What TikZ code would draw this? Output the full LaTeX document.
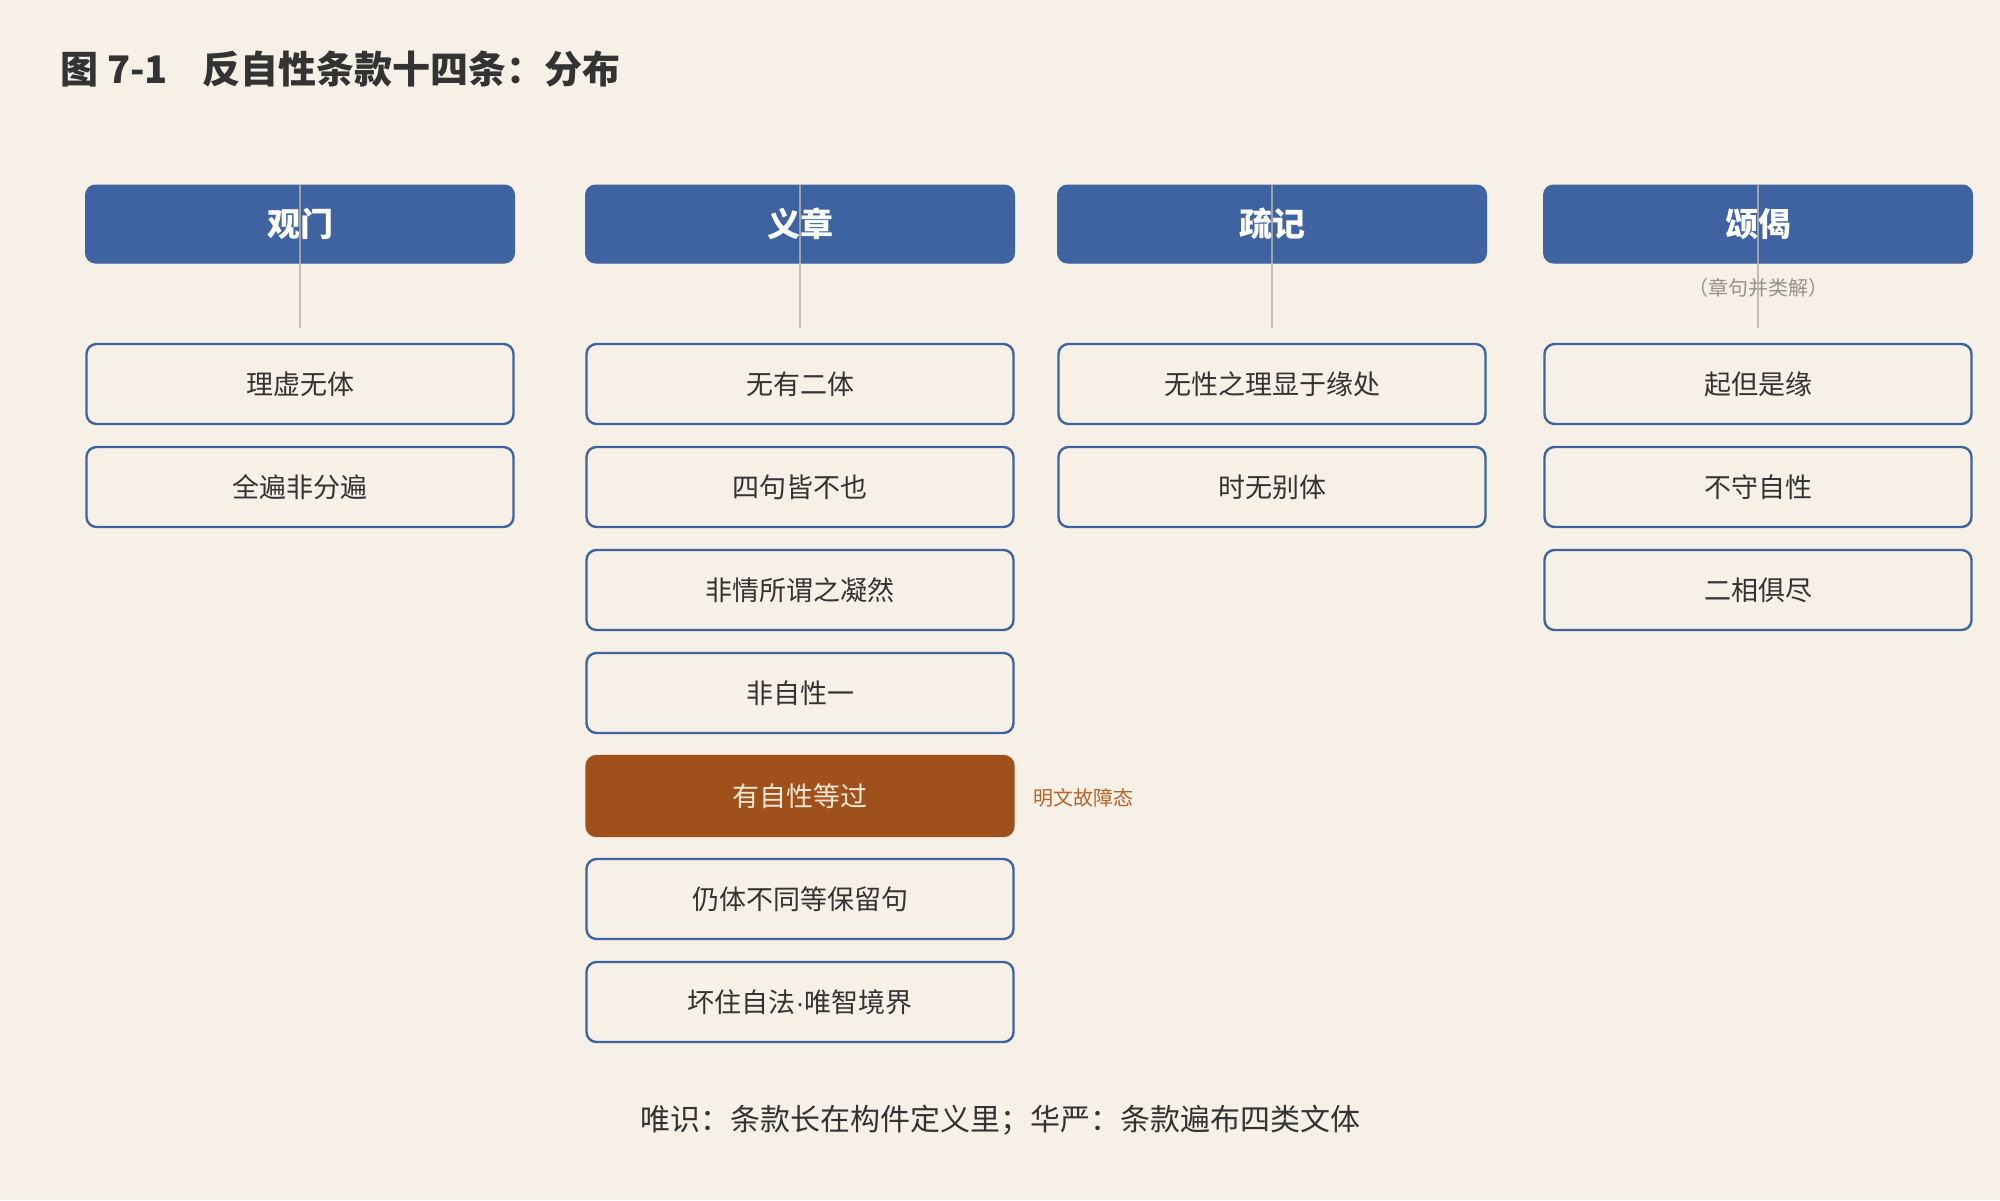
\documentclass[tikz,border=0pt]{standalone}
\usepackage{fontspec}
\setmainfont{Noto Sans CJK SC}
\newfontfamily\latinfont{Liberation Sans}
\definecolor{bgc}{HTML}{F6F0E6}
\definecolor{hdr}{HTML}{3F63A0}
\definecolor{txt}{HTML}{333333}
\definecolor{hil}{HTML}{A0511B}
\definecolor{hiltxt}{HTML}{F6E8D6}
\definecolor{note}{HTML}{B4642A}
\definecolor{sub}{HTML}{999088}
\definecolor{conn}{HTML}{B8B2AA}
\tikzset{
  hdrbox/.style={rectangle, rounded corners=10pt, fill=hdr, draw=hdr, line width=1pt,
    minimum width=429pt, minimum height=78pt, inner sep=0pt,
    text=white, font=\fontsize{33}{36}\selectfont\bfseries},
  itembox/.style={rectangle, rounded corners=10pt, fill=bgc, draw=hdr, line width=2.4pt,
    minimum width=427pt, minimum height=80pt, inner sep=0pt,
    text=txt, font=\fontsize{27}{30}\selectfont},
  hilbox/.style={itembox, fill=hil, draw=hil, text=hiltxt},
  connline/.style={draw=conn, line width=1.3pt, opacity=0.8},
}
\begin{document}
\begin{tikzpicture}[x=1pt,y=-1pt]
\fill[bgc] (0,0) rectangle (2000,1200);
\useasboundingbox (0,0) rectangle (2000,1200);
\node[anchor=west, text=txt, font=\fontsize{38}{42}\selectfont\bfseries] (title) at (57,69) {图 7-1\hspace{0.9em}反自性条款十四条：分布};
% headers
\node[hdrbox] (h1) at (300,224) {观门};
\node[hdrbox] (h2) at (800,224) {义章};
\node[hdrbox] (h3) at (1272,224) {疏记};
\node[hdrbox] (h4) at (1758,224) {颂偈};
\node[text=sub, font=\fontsize{20}{22}\selectfont] (s4) at (1758,288) {（章句并类解）};
% column 1
\node[itembox] (a1) at (300,384) {理虚无体};
\node[itembox] (a2) at (300,487) {全遍非分遍};
% column 2
\node[itembox] (b1) at (800,384) {无有二体};
\node[itembox] (b2) at (800,487) {四句皆不也};
\node[itembox] (b3) at (800,590) {非情所谓之凝然};
\node[itembox] (b4) at (800,693) {非自性一};
\node[hilbox] (b5) at (800,796) {有自性等过};
\node[itembox] (b6) at (800,899) {仍体不同等保留句};
\node[itembox] (b7) at (800,1002) {坏住自法{\latinfont ·}唯智境界};
\node[anchor=west, text=note, font=\fontsize{20}{22}\selectfont] (n5) at (1030,798) {明文故障态};
% column 3
\node[itembox] (c1) at (1272,384) {无性之理显于缘处};
\node[itembox] (c2) at (1272,487) {时无别体};
% column 4
\node[itembox] (d1) at (1758,384) {起但是缘};
\node[itembox] (d2) at (1758,487) {不守自性};
\node[itembox] (d3) at (1758,590) {二相俱尽};
% connectors
\coordinate (e1) at (300,328);
\coordinate (e2) at (800,328);
\coordinate (e3) at (1272,328);
\coordinate (e4) at (1758,328);
\draw[connline] (h1.north) -- (e1);
\draw[connline] (h2.north) -- (e2);
\draw[connline] (h3.north) -- (e3);
\draw[connline] (h4.north) -- (e4);
% caption
\node[text=txt, font=\fontsize{30}{33}\selectfont] (cap) at (1000,1120) {唯识：条款长在构件定义里；华严：条款遍布四类文体};
\end{tikzpicture}
\end{document}
